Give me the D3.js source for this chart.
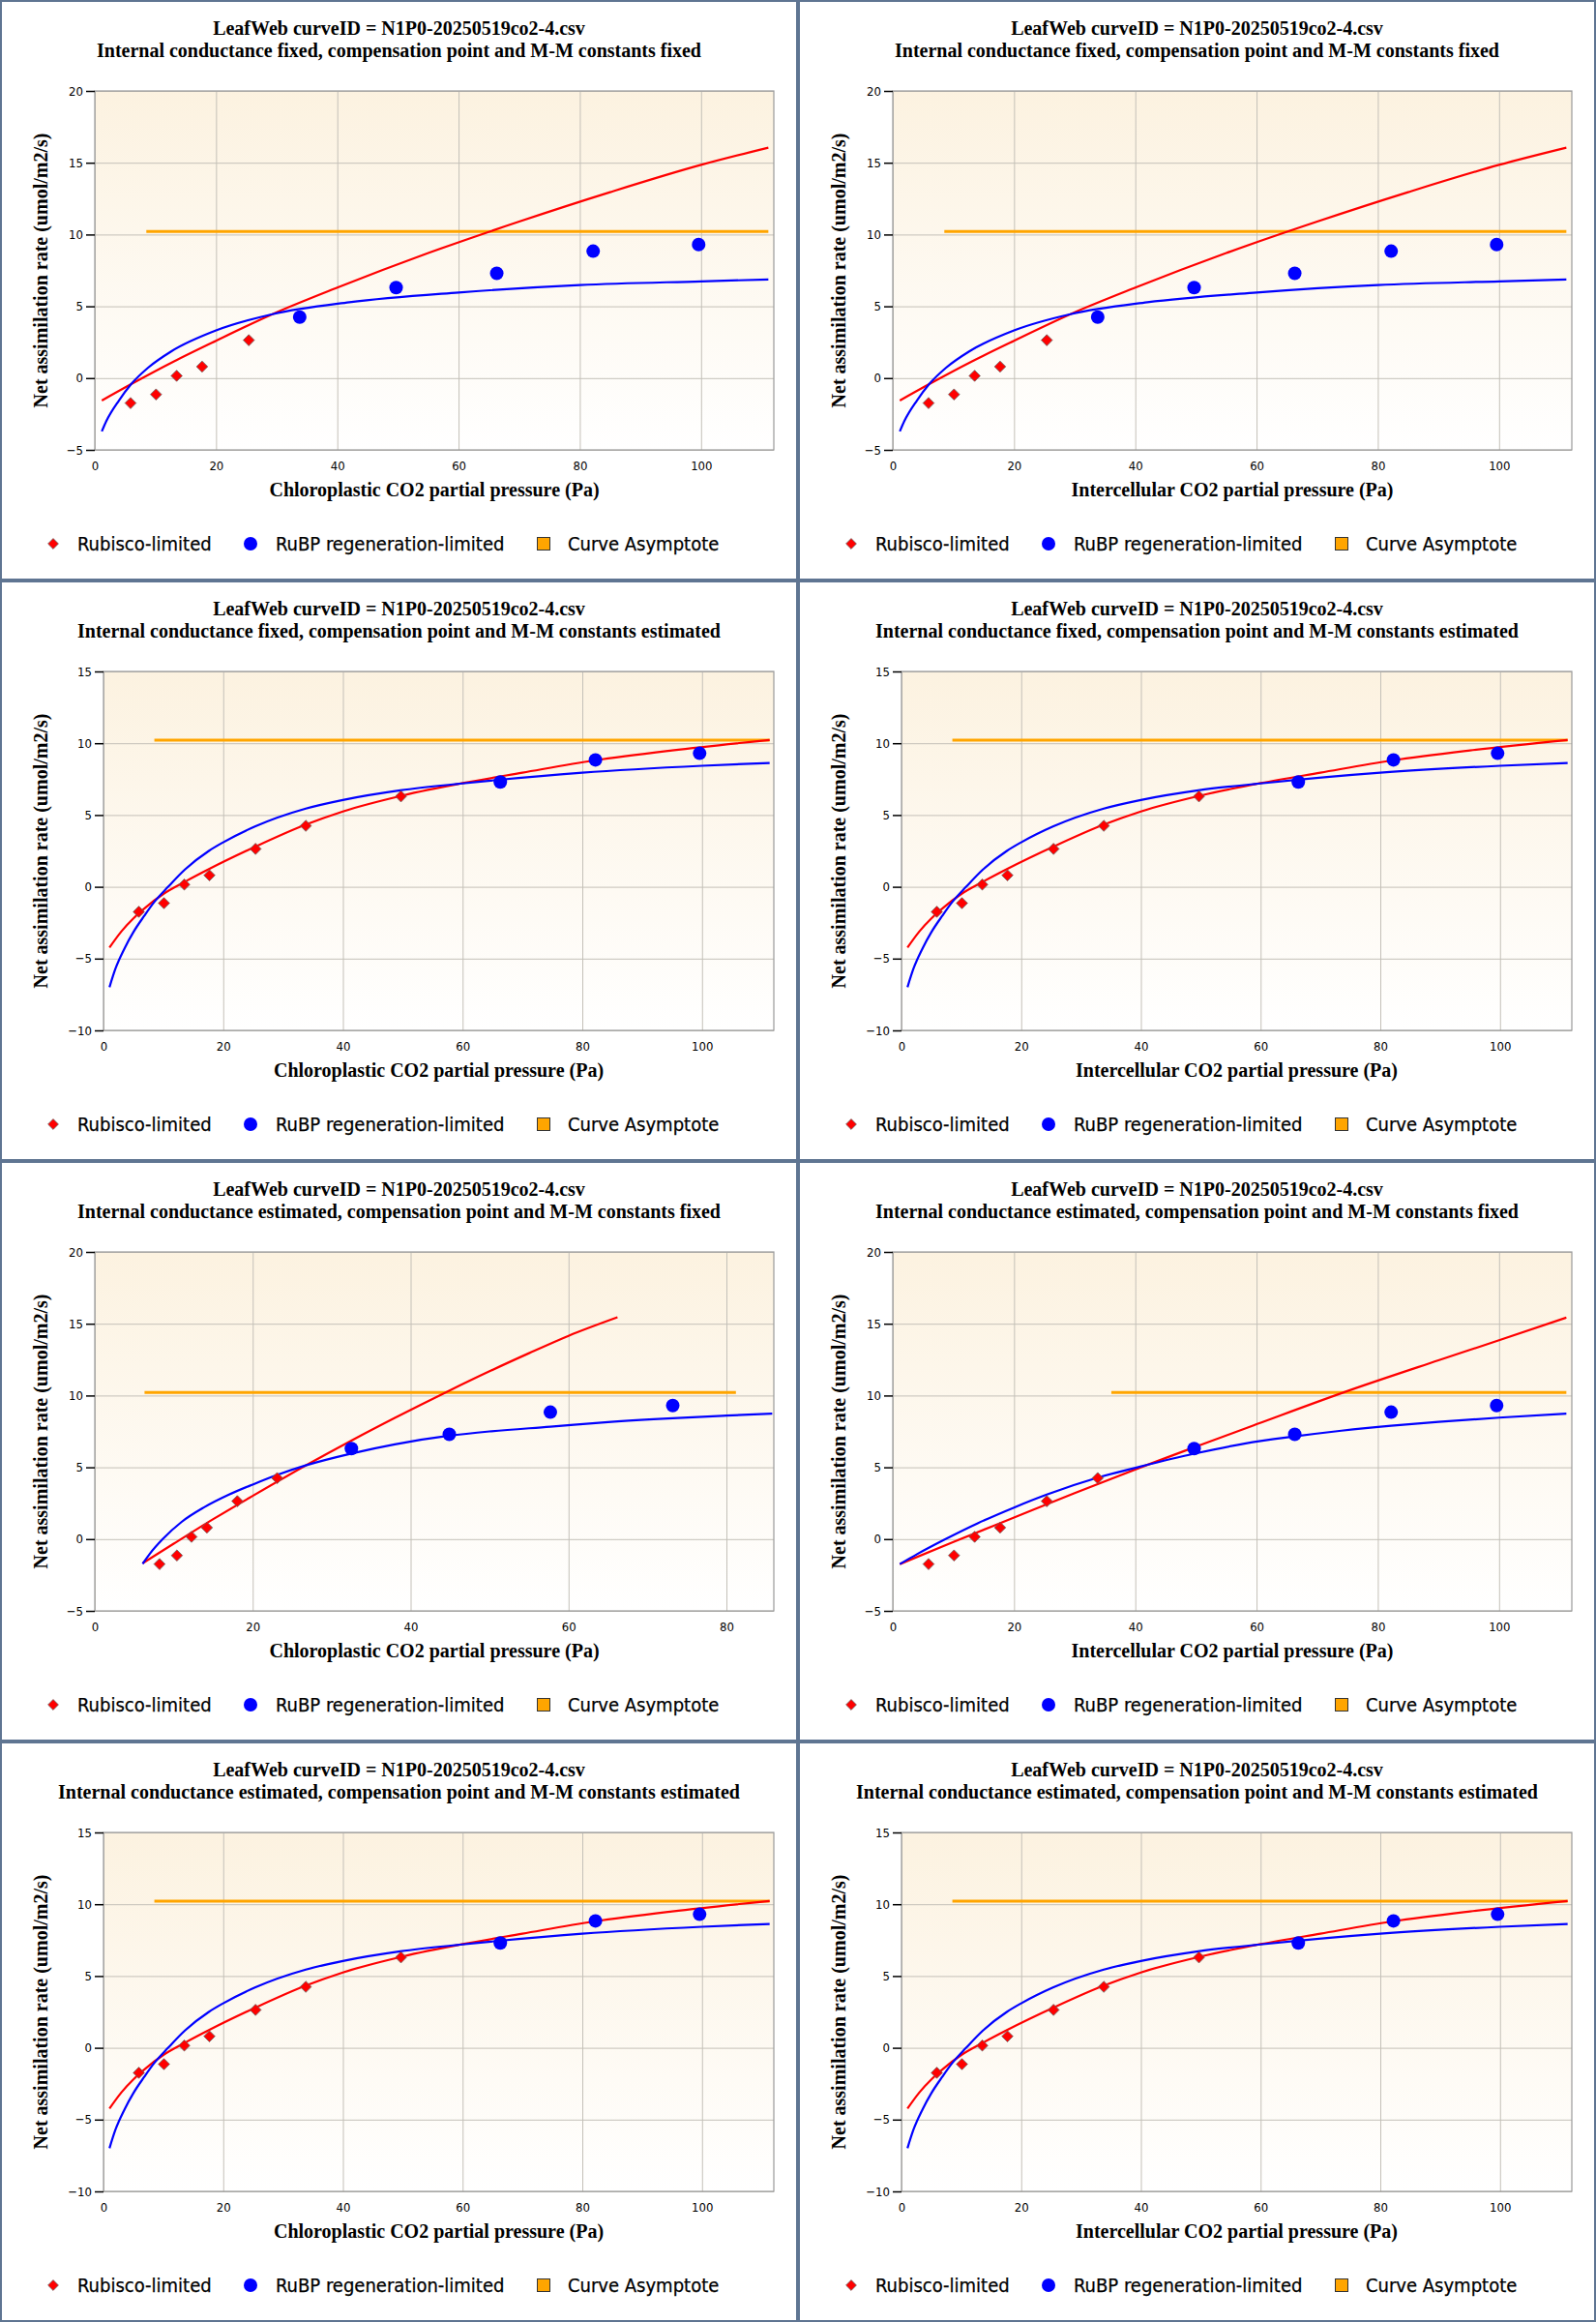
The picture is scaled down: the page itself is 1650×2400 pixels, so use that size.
<!DOCTYPE html>
<html>
<head>
<meta charset="utf-8">
<script src="https://cdn.jsdelivr.net/npm/d3@7"></script>
<style>
  body { margin: 0; background: #fff; }
</style>
</head>
<body>
<div id="chart"></div>
<script>
// ---- text ----
const curveTitle = "LeafWeb curveID = N1P0-20250519co2-4.csv";
const subtitles = [
    "Internal conductance fixed, compensation point and M-M constants fixed",
    "Internal conductance fixed, compensation point and M-M constants estimated",
    "Internal conductance estimated, compensation point and M-M constants fixed",
    "Internal conductance estimated, compensation point and M-M constants estimated"
];
const xLabels = ["Chloroplastic CO2 partial pressure (Pa)", "Intercellular CO2 partial pressure (Pa)"];
const yLabel = "Net assimilation rate (umol/m2/s)";
const legendLabels = ["Rubisco-limited", "RuBP regeneration-limited", "Curve Asymptote"];

// ---- ticks ----
const xTicks112 = [0, 20, 40, 60, 80, 100];
const xTicks86 = [0, 20, 40, 60, 80];
const yTicksHigh = [-5, 0, 5, 10, 15, 20];
const yTicksLow = [-10, -5, 0, 5, 10, 15];

// ---- observed points ----
const obsX = [5.9, 10.1, 13.5, 17.7, 25.4, 33.8, 49.7, 66.3, 82.2, 99.6];
const obsXcc = [8.2, 10.4, 12.25, 14.2, 18.05, 23.1, 32.5, 44.9, 57.7, 73.2];   // Cc with gm estimated
const obsA = [-1.74, -1.14, 0.16, 0.8, 2.64, 4.25, 6.3, 7.3, 8.84, 9.3];

// ---- fitted curves ----
// gm fixed, constants fixed
const rubiscoA_x = [1.16, 6, 13, 20, 29.3, 40, 55, 70, 85, 100, 111.1];
const rubiscoA_y = [-1.56, -0.42, 1.15, 2.6, 4.45, 6.3, 8.71, 10.9, 12.95, 14.85, 16.05];
const rubpA_x = [1.16, 1.9, 4, 6, 8.8, 12.6, 20, 29.3, 42, 60, 80, 100, 111.1];
const rubpA_y = [-3.71, -3.0, -1.55, -0.42, 0.73, 1.86, 3.32, 4.45, 5.28, 5.96, 6.48, 6.74, 6.87];
// constants estimated
const rubiscoB_x = [1, 3, 5, 7, 10, 13.6, 17.7, 25.4, 33.6, 40, 50, 60, 70, 82, 95, 111.3];
const rubiscoB_y = [-4.23, -3.1, -2.2, -1.45, -0.5, 0.35, 1.25, 2.8, 4.3, 5.25, 6.36, 7.22, 7.95, 8.8, 9.5, 10.23];
const rubpB_x = [1, 2, 3.5, 5, 6.8, 8.5, 10.8, 13.6, 17.6, 20, 25.3, 33.8, 40, 49.6, 60, 80, 100, 111.3];
const rubpB_y = [-6.99, -5.7, -4.3, -3.15, -2.03, -1.05, 0, 1.2, 2.5, 3.1, 4.2, 5.45, 6.05, 6.72, 7.2, 7.95, 8.43, 8.63];
// gm estimated, chloroplastic
const rubiscoC_x = [6.06, 10, 15, 20, 26.7, 32.5, 38, 44.75, 50, 55, 60, 66.2];
const rubiscoC_y = [-1.68, -0.32, 1.39, 3.01, 5.12, 6.86, 8.44, 10.3, 11.69, 12.95, 14.16, 15.45];
const rubpC_x = [6.06, 7, 8.6, 11, 13.8, 17, 20, 23, 26.7, 32.5, 38, 44.9, 50, 57.7, 65, 73.2, 80, 85.8];
const rubpC_y = [-1.72, -1.0, 0, 1.2, 2.2, 3.1, 3.8, 4.45, 5.13, 5.96, 6.6, 7.2, 7.5, 7.83, 8.15, 8.42, 8.6, 8.74];
// gm estimated, intercellular
const rubiscoD_x = [1.16, 10, 20, 30, 40.8, 50, 60, 74.5, 90, 100, 111.1];
const rubiscoD_y = [-1.74, -0.2, 1.5, 3.2, 4.98, 6.44, 8.0, 10.24, 12.45, 13.85, 15.43];
const rubpD_x = [1.16, 4, 8.7, 14, 20, 25.4, 33.8, 40.8, 49.7, 58, 66.3, 74, 82.2, 90, 100, 111.1];
const rubpD_y = [-1.74, -1.05, 0, 1.1, 2.2, 3.1, 4.28, 5.05, 5.95, 6.65, 7.15, 7.55, 7.9, 8.17, 8.46, 8.74];

// asymptote level and its x extent per case
const asymptoteA = 10.22;
const asymX_A = [8.5, 111.1];
const asymX_B = [8.5, 111.3];
const asymX_C = [6.3, 81.2];
const asymX_D = [36.05, 111.1];

// how many of the observed points are Rubisco-limited
const nRubisco = { A: 5, B: 7, C: 6, D: 6 };

const zip = (xs, ys) => xs.map((x, i) => ({ x: x, y: ys[i] }));

const cases = {
    A: { xMax: 112, xTicks: xTicks112, yDom: [-5, 20], yTicks: yTicksHigh, px: obsX,
         red: zip(rubiscoA_x, rubiscoA_y), blue: zip(rubpA_x, rubpA_y), asym: asymX_A, n: nRubisco.A },
    B: { xMax: 112, xTicks: xTicks112, yDom: [-10, 15], yTicks: yTicksLow, px: obsX,
         red: zip(rubiscoB_x, rubiscoB_y), blue: zip(rubpB_x, rubpB_y), asym: asymX_B, n: nRubisco.B },
    C: { xMax: 86, xTicks: xTicks86, yDom: [-5, 20], yTicks: yTicksHigh, px: obsXcc,
         red: zip(rubiscoC_x, rubiscoC_y), blue: zip(rubpC_x, rubpC_y), asym: asymX_C, n: nRubisco.C },
    D: { xMax: 112, xTicks: xTicks112, yDom: [-5, 20], yTicks: yTicksHigh, px: obsX,
         red: zip(rubiscoD_x, rubiscoD_y), blue: zip(rubpD_x, rubpD_y), asym: asymX_D, n: nRubisco.D }
};

// row, col -> which case
const panels = [
    { row: 0, col: 0, c: "A", sub: 0 }, { row: 0, col: 1, c: "A", sub: 0 },
    { row: 1, col: 0, c: "B", sub: 1 }, { row: 1, col: 1, c: "B", sub: 1 },
    { row: 2, col: 0, c: "C", sub: 2 }, { row: 2, col: 1, c: "D", sub: 2 },
    { row: 3, col: 0, c: "B", sub: 3 }, { row: 3, col: 1, c: "B", sub: 3 }
];

const W = 1650, H = 2400, PW = 825, PH = 600;
const serif = "'Liberation Serif', 'Times New Roman', serif";
const sans = "'DejaVu Sans Condensed', 'DejaVu Sans', sans-serif";

const svg = d3.select("#chart").append("svg")
    .attr("width", W).attr("height", H)
    .style("display", "block");

const defs = svg.append("defs");
const grad = defs.append("linearGradient")
    .attr("id", "plotbg").attr("x1", 0).attr("y1", 0).attr("x2", 0).attr("y2", 1);
grad.append("stop").attr("offset", "0%").attr("stop-color", "#fcf2e0");
grad.append("stop").attr("offset", "100%").attr("stop-color", "#ffffff");

function diamond(r) {
    return `M0,${-r}L${r},0L0,${r}L${-r},0Z`;
}

function drawPanel(p, idx) {
    const cfg = cases[p.c];
    const g = svg.append("g").attr("transform", `translate(${p.col * PW},${p.row * PH})`);

    const top = 94, bottom = 465, right = 800;
    const left = cfg.yDom[0] === -10 ? 107 : 98;
    const w = right - left, h = bottom - top;

    const x = d3.scaleLinear().domain([0, cfg.xMax]).range([left, right]);
    const y = d3.scaleLinear().domain(cfg.yDom).range([bottom, top]);

    // titles
    g.append("text").attr("x", PW / 2).attr("y", 36)
        .attr("text-anchor", "middle").attr("font-family", serif)
        .attr("font-weight", "bold").attr("font-size", 20).text(curveTitle);
    g.append("text").attr("x", PW / 2).attr("y", 58.5)
        .attr("text-anchor", "middle").attr("font-family", serif)
        .attr("font-weight", "bold").attr("font-size", 20).text(subtitles[p.sub]);

    // plot background
    g.append("rect").attr("x", left).attr("y", top).attr("width", w).attr("height", h)
        .attr("fill", "url(#plotbg)");

    // grid
    g.append("g").attr("transform", `translate(0,${bottom})`)
        .call(d3.axisBottom(x).tickValues(cfg.xTicks).tickSize(-h).tickFormat(""))
        .call(s => s.select(".domain").remove())
        .call(s => s.selectAll("line").attr("stroke", "#c4c0b8"));
    g.append("g").attr("transform", `translate(${left},0)`)
        .call(d3.axisLeft(y).tickValues(cfg.yTicks).tickSize(-w).tickFormat(""))
        .call(s => s.select(".domain").remove())
        .call(s => s.selectAll("line").attr("stroke", "#c4c0b8"));

    // frame
    g.append("rect").attr("x", left).attr("y", top).attr("width", w).attr("height", h)
        .attr("fill", "none").attr("stroke", "#9a9a9a").attr("stroke-width", 1.2);

    // axes with labels
    g.append("g").attr("transform", `translate(0,${bottom})`)
        .call(d3.axisBottom(x).tickValues(cfg.xTicks).tickSize(0).tickPadding(12))
        .call(s => s.select(".domain").remove())
        .call(s => s.selectAll("text").attr("font-family", sans).attr("font-size", 13).attr("fill", "#000"));
    g.append("g").attr("transform", `translate(${left},0)`)
        .call(d3.axisLeft(y).tickValues(cfg.yTicks).tickSize(9).tickPadding(3))
        .call(s => s.select(".domain").remove())
        .call(s => s.selectAll("line").attr("stroke", "#000").attr("stroke-width", 1.5))
        .call(s => s.selectAll("text").attr("font-family", sans).attr("font-size", 13).attr("fill", "#000"));

    // axis titles
    g.append("text").attr("x", (left + right) / 2).attr("y", 513)
        .attr("text-anchor", "middle").attr("font-family", serif)
        .attr("font-weight", "bold").attr("font-size", 20).text(xLabels[p.col]);
    g.append("text")
        .attr("transform", `translate(49,${(top + bottom) / 2}) rotate(-90)`)
        .attr("text-anchor", "middle").attr("font-family", serif)
        .attr("font-weight", "bold").attr("font-size", 20).text(yLabel);

    // clip
    const clipId = "clip" + idx;
    defs.append("clipPath").attr("id", clipId)
        .append("rect").attr("x", left).attr("y", top).attr("width", w).attr("height", h);
    const plot = g.append("g").attr("clip-path", `url(#${clipId})`);

    const line = d3.line().x(d => x(d.x)).y(d => y(d.y)).curve(d3.curveMonotoneX);

    // asymptote
    plot.append("line")
        .attr("x1", x(cfg.asym[0])).attr("x2", x(cfg.asym[1]))
        .attr("y1", y(asymptoteA)).attr("y2", y(asymptoteA))
        .attr("stroke", "#ffa500").attr("stroke-width", 3);

    plot.append("path").datum(cfg.red).attr("d", line)
        .attr("fill", "none").attr("stroke", "#ff0000").attr("stroke-width", 2.2);
    plot.append("path").datum(cfg.blue).attr("d", line)
        .attr("fill", "none").attr("stroke", "#0000ff").attr("stroke-width", 2.2);

    const pts = cfg.px.map((v, i) => ({ x: v, y: obsA[i], rub: i < cfg.n }));

    plot.selectAll(".rub").data(pts.filter(d => d.rub)).enter().append("path")
        .attr("class", "rub")
        .attr("d", diamond(5.8))
        .attr("transform", d => `translate(${x(d.x)},${y(d.y)})`)
        .attr("fill", "#ff0000").attr("stroke", "#666").attr("stroke-width", 0.8);
    plot.selectAll(".rubp").data(pts.filter(d => !d.rub)).enter().append("circle")
        .attr("class", "rubp")
        .attr("cx", d => x(d.x)).attr("cy", d => y(d.y)).attr("r", 7)
        .attr("fill", "#0000ff");

    // legend
    const lg = g.append("g");
    lg.append("path").attr("d", diamond(5.4)).attr("transform", "translate(55,562)")
        .attr("fill", "#ff0000").attr("stroke", "#666").attr("stroke-width", 0.8);
    lg.append("circle").attr("cx", 259).attr("cy", 562).attr("r", 7).attr("fill", "#0000ff");
    lg.append("rect").attr("x", 555.5).attr("y", 555.5).attr("width", 13).attr("height", 13)
        .attr("fill", "#ffa500").attr("stroke", "#333").attr("stroke-width", 1);
    const lx = [80, 285, 587];
    lg.selectAll("text").data(legendLabels).enter().append("text")
        .attr("x", (d, i) => lx[i]).attr("y", 568.5)
        .attr("font-family", sans).attr("font-size", 20).attr("fill", "#000")
        .style("stroke", "#000").style("stroke-width", 0.25)
        .text(d => d);

    // panel border
    g.append("rect").attr("x", 0).attr("y", 0).attr("width", PW).attr("height", PH)
        .attr("fill", "none").attr("stroke", "#5f7592").attr("stroke-width", 4);
}

panels.forEach(drawPanel);
</script>
</body>
</html>
